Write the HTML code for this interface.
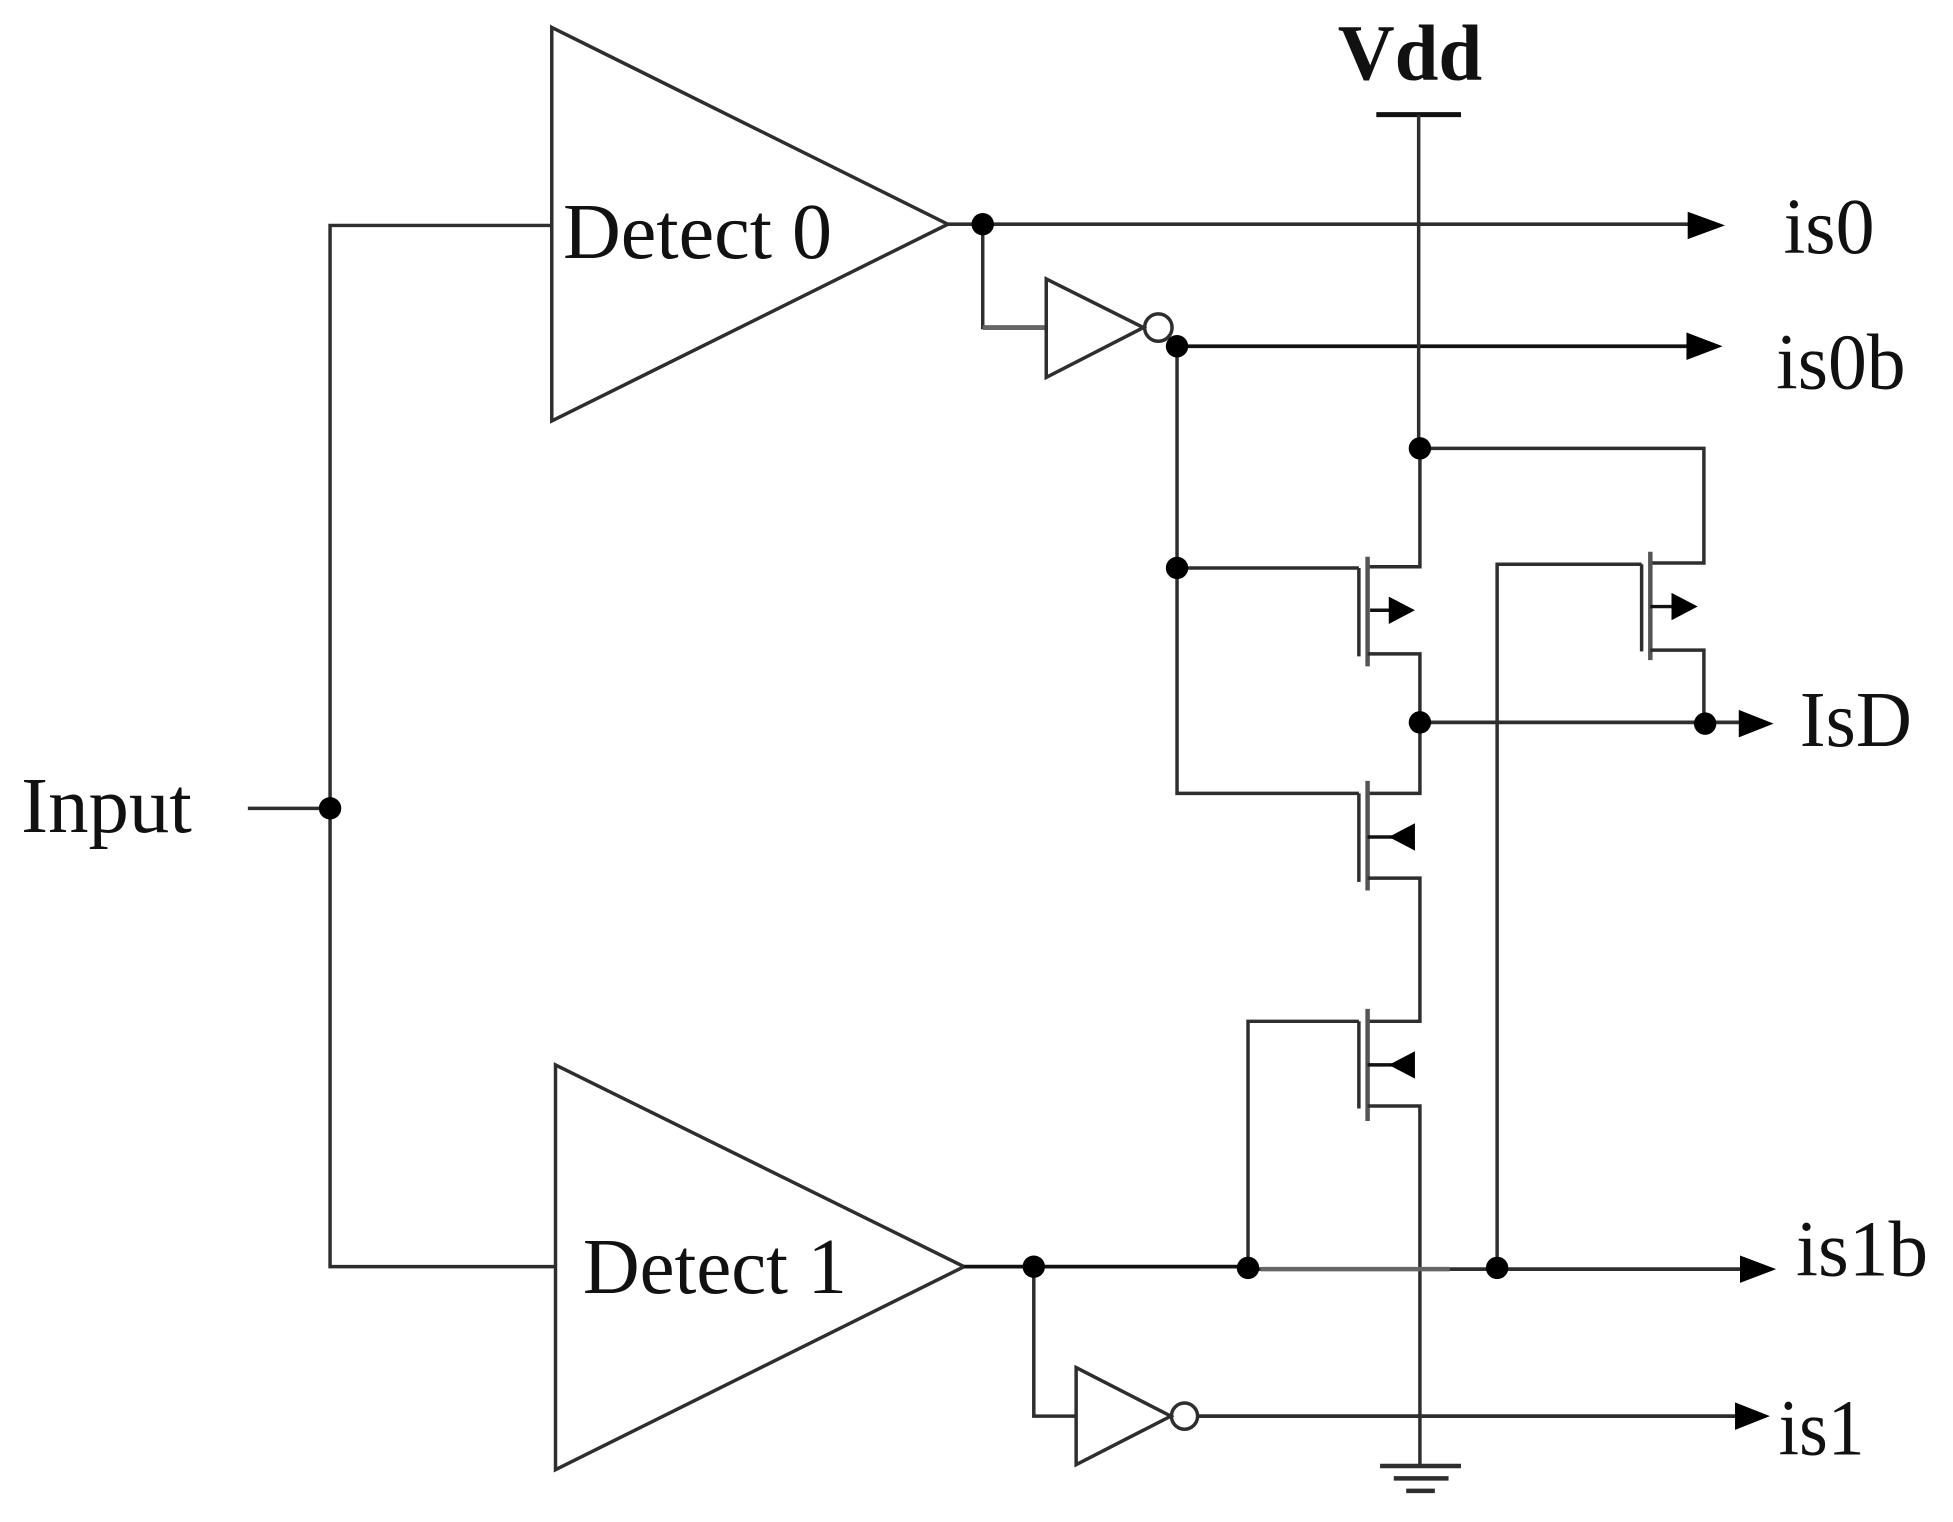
<!DOCTYPE html>
<html>
<head>
<meta charset="utf-8">
<style>
html,body{margin:0;padding:0;background:#fff;width:1953px;height:1522px;overflow:hidden}
svg{display:block}
text{font-family:"Liberation Serif",serif;fill:#111}
</style>
</head>
<body>
<svg width="1953" height="1522" viewBox="0 0 1568 1222" preserveAspectRatio="none" xmlns="http://www.w3.org/2000/svg">
<rect width="1568" height="1222" fill="#fff"/>
<g fill="none" stroke="#2e2e2e" stroke-width="2.8">
<!-- Detect blocks -->
<polygon points="443,22 761,180 443,338"/>
<polygon points="446,855 774,1017 446,1180"/>
<!-- Input wiring -->
<path d="M443,181H265V1017H446"/>
<path d="M199,649H265"/>
<!-- is0 -->
<path d="M761,180H1360" stroke-width="3"/>
<path d="M789,180V263H840"/>
<path d="M789,263H840" stroke="#666" stroke-width="4"/>
<polygon points="840,224 918,263 840,303"/>
<circle cx="930" cy="263" r="11"/>
<!-- is0b -->
<path d="M945,278H1360" stroke="#111" stroke-width="3"/>
<path d="M945,278V637H1091"/>
<path d="M945,456H1091"/>
<!-- Vdd -->
<path d="M1105,92H1173" stroke="#111" stroke-width="4"/>
<path d="M1139,92V360"/>
<path d="M1140,360V455H1098"/>
<path d="M1140,360H1368V452H1325"/>
<!-- T1 -->
<path d="M1091,456V527"/>
<path d="M1098,447V535" stroke-width="3.6" stroke="#555"/>
<path d="M1098,525H1140V637H1098"/>
<path d="M1100,490H1118" stroke="#111"/>
<!-- T2 -->
<path d="M1318,453V523"/>
<path d="M1325,443V530" stroke-width="3.6" stroke="#555"/>
<path d="M1325,522H1368V580"/>
<path d="M1325,487H1345" stroke="#111"/>
<path d="M1318,453H1202V1018"/>
<!-- IsD -->
<path d="M1140,580H1400" stroke-width="3"/>
<!-- T3 -->
<path d="M1091,637V708"/>
<path d="M1098,627V715" stroke-width="3.6" stroke="#555"/>
<path d="M1098,705H1140V820H1098"/>
<path d="M1098,672H1118" stroke="#111"/>
<!-- T4 -->
<path d="M1091,820V890"/>
<path d="M1098,810V900" stroke-width="3.6" stroke="#555"/>
<path d="M1098,888H1140V1176"/>
<path d="M1098,855H1118" stroke="#111"/>
<path d="M1091,820H1002V1018"/>
<!-- is1b -->
<path d="M774,1017H1002" stroke="#111" stroke-width="3"/>
<path d="M1002,1019H1400" stroke-width="3"/>
<path d="M1012,1019H1164" stroke="#666" stroke-width="3.6"/>
<path d="M830,1017V1137H864"/>
<polygon points="864,1098 940,1137 864,1176"/>
<circle cx="951" cy="1137" r="10.5"/>
<!-- is1 -->
<path d="M961,1137H1395" stroke-width="3"/>
<!-- ground -->
<path d="M1108,1177H1173M1119,1187H1163M1129,1197H1152" stroke-width="3.6"/>
</g>
<!-- Junction dots -->
<g fill="#000">
<circle cx="265" cy="649" r="9"/>
<circle cx="789" cy="180" r="9"/>
<circle cx="945" cy="278" r="9"/>
<circle cx="945" cy="456" r="9"/>
<circle cx="1140" cy="360" r="9"/>
<circle cx="1140" cy="580" r="9"/>
<circle cx="1369" cy="581" r="9"/>
<circle cx="830" cy="1017" r="9"/>
<circle cx="1002" cy="1018" r="9"/>
<circle cx="1202" cy="1018" r="9"/>
<!-- Arrowheads -->
<polygon points="1355,170 1385,181 1355,192"/>
<polygon points="1354,267 1383,278 1354,289"/>
<polygon points="1396,570 1424,581 1396,592"/>
<polygon points="1397,1008 1426,1019 1397,1030"/>
<polygon points="1393,1126 1421,1137 1393,1148"/>
<polygon points="1115,479 1136,490 1115,501"/>
<polygon points="1342,476 1363,487 1342,498"/>
<polygon points="1136,661 1115,672 1136,683"/>
<polygon points="1136,844 1115,855 1136,866"/>
</g>
<!-- Labels -->
<g font-size="64">
<text x="452" y="207" textLength="216" lengthAdjust="spacingAndGlyphs">Detect 0</text>
<text x="468" y="1038" textLength="212" lengthAdjust="spacingAndGlyphs">Detect 1</text>
<text x="17" y="668" textLength="137" lengthAdjust="spacingAndGlyphs">Input</text>
<text x="1432" y="203" textLength="73" lengthAdjust="spacingAndGlyphs">is0</text>
<text x="1426" y="312" textLength="104" lengthAdjust="spacingAndGlyphs">is0b</text>
<text x="1445" y="599" textLength="90" lengthAdjust="spacingAndGlyphs">IsD</text>
<text x="1442" y="1024" textLength="106" lengthAdjust="spacingAndGlyphs">is1b</text>
<text x="1428" y="1168" textLength="69" lengthAdjust="spacingAndGlyphs">is1</text>
<text x="1074" y="64" font-weight="bold" textLength="116" lengthAdjust="spacingAndGlyphs">Vdd</text>
</g>
</svg>
</body>
</html>
